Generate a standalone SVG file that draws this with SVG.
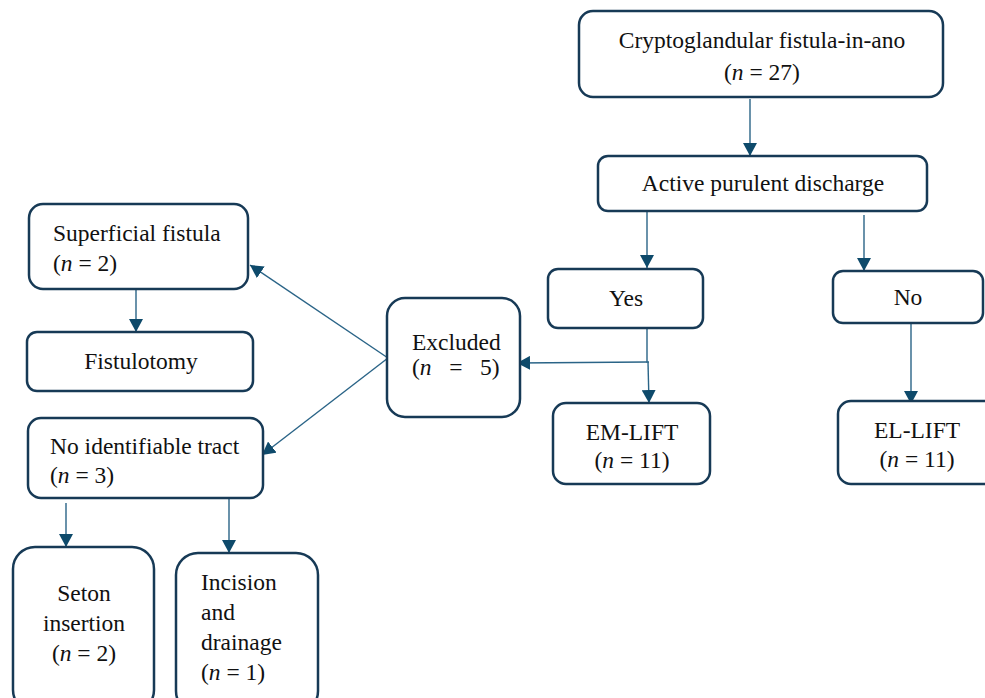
<svg xmlns="http://www.w3.org/2000/svg" width="985" height="698" viewBox="0 0 985 698">
<defs>
<marker id="ah" markerWidth="13" markerHeight="14" refX="13" refY="7" orient="auto" markerUnits="userSpaceOnUse" viewBox="0 0 13 14">
<path d="M0,0 L13,7 L0,14 Z" fill="#0e4a6b"/>
</marker>
</defs>
<style>
.box{fill:#fff;stroke:#173a56;stroke-width:2.5}
text{font-family:'Liberation Serif','Times New Roman',serif;font-size:23.5px;fill:#111}
.c{text-anchor:middle}
.con{stroke:#2a6487;stroke-width:1.4;fill:none}
.a{marker-end:url(#ah)}
</style>
<rect width="985" height="698" fill="#fff"/>
<g id="connectors">
<line class="con a" x1="750" y1="99" x2="750" y2="156"/>
<line class="con a" x1="647" y1="212" x2="647" y2="268"/>
<line class="con a" x1="864" y1="215" x2="864" y2="271"/>
<polyline class="con" points="647,329 647,362 649,362"/>
<line class="con a" x1="648" y1="362" x2="649" y2="403"/>
<line class="con a" x1="647" y1="362" x2="517" y2="363"/>
<line class="con a" x1="911" y1="324" x2="911" y2="404"/>
<line class="con a" x1="388" y1="358" x2="250" y2="265"/>
<line class="con a" x1="388" y1="358" x2="262" y2="455"/>
<line class="con a" x1="136" y1="290" x2="136" y2="332"/>
<line class="con a" x1="66" y1="503" x2="66" y2="547"/>
<line class="con a" x1="229" y1="499" x2="229" y2="553"/>
</g>
<g id="n-top">
<rect class="box" x="579" y="11" width="364" height="86" rx="14"/>
<text class="c" x="762" y="48">Cryptoglandular fistula-in-ano</text>
<text class="c" x="762" y="80">(<tspan font-style="italic">n</tspan> = 27)</text>
</g>
<g id="n-discharge">
<rect class="box" x="598" y="156" width="329" height="55" rx="10"/>
<text class="c" x="763" y="191">Active purulent discharge</text>
</g>
<g id="n-yes">
<rect class="box" x="548" y="269" width="155" height="59" rx="10"/>
<text class="c" x="626" y="306">Yes</text>
</g>
<g id="n-no">
<rect class="box" x="833" y="271" width="150" height="52" rx="10"/>
<text class="c" x="908" y="305">No</text>
</g>
<g id="n-emlift">
<rect class="box" x="553" y="403" width="157" height="81" rx="13"/>
<text class="c" x="632" y="440">EM-LIFT</text>
<text class="c" x="632" y="468">(<tspan font-style="italic">n</tspan> = 11)</text>
</g>
<g id="n-ellift">
<rect class="box" x="838" y="401" width="160" height="83" rx="13"/>
<text class="c" x="917" y="438">EL-LIFT</text>
<text class="c" x="917" y="467">(<tspan font-style="italic">n</tspan> = 11)</text>
</g>
<g id="n-excluded">
<rect class="box" x="387" y="298" width="133" height="119" rx="18"/>
<text x="412" y="350">Excluded</text>
<text x="412" y="375" xml:space="preserve">(<tspan font-style="italic">n</tspan>   =   5)</text>
</g>
<g id="n-superficial">
<rect class="box" x="29" y="204" width="219" height="85" rx="14"/>
<text x="53" y="241">Superficial fistula</text>
<text x="53" y="271">(<tspan font-style="italic">n</tspan> = 2)</text>
</g>
<g id="n-fistulotomy">
<rect class="box" x="27" y="332" width="226" height="59" rx="10"/>
<text class="c" x="141" y="369">Fistulotomy</text>
</g>
<g id="n-notract">
<rect class="box" x="28" y="418" width="235" height="80" rx="13"/>
<text x="50" y="454">No identifiable tract</text>
<text x="50" y="483">(<tspan font-style="italic">n</tspan> = 3)</text>
</g>
<g id="n-seton">
<rect class="box" x="13" y="547" width="141" height="165" rx="22"/>
<text class="c" x="84" y="601">Seton</text>
<text class="c" x="84" y="631">insertion</text>
<text class="c" x="84" y="661">(<tspan font-style="italic">n</tspan> = 2)</text>
</g>
<g id="n-incision">
<rect class="box" x="176" y="553" width="142" height="160" rx="22"/>
<text x="201" y="590">Incision</text>
<text x="201" y="620">and</text>
<text x="201" y="650">drainage</text>
<text x="201" y="680">(<tspan font-style="italic">n</tspan> = 1)</text>
</g>
</svg>
